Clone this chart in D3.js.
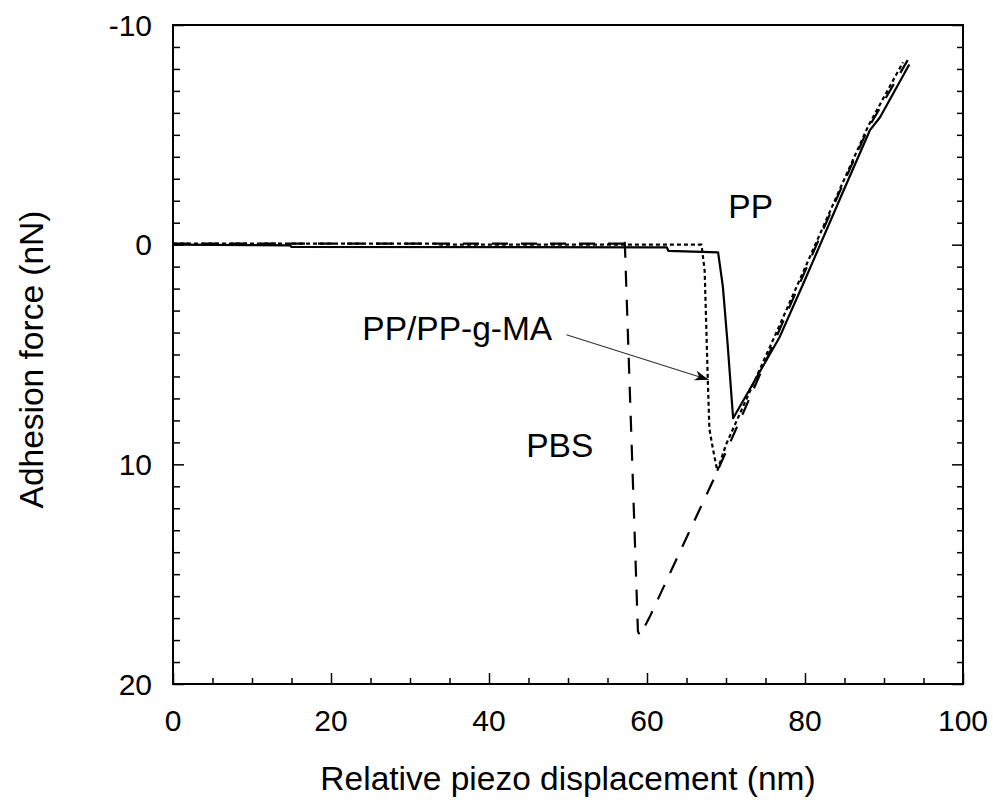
<!DOCTYPE html>
<html>
<head>
<meta charset="utf-8">
<script src="https://cdn.jsdelivr.net/npm/d3@7"></script>
<style>
  html, body { margin: 0; padding: 0; background: #fff; }
  svg { display: block; font-family: "Liberation Sans", Arial, sans-serif; }
</style>
</head>
<body>
<svg id="chart" width="993" height="800"></svg>
<script>
// Force–displacement retraction curves (nN vs nm); y axis runs downward.
const xDomain = [0, 100];
const yDomain = [-10, 20];
const xTicks = [0, 20, 40, 60, 80, 100];
const yTicks = [-10, 0, 10, 20];
const xTitle = "Relative piezo displacement (nm)";
const yTitle = "Adhesion force (nN)";

// PP (solid)
const ppCurve = [
  [0, 0], [14.8, 0.03], [15, 0.1], [62.5, 0.12], [62.7, 0.28], [69.0, 0.35],
  [69.6, 1.9], [70.2, 4.5], [70.9, 7.9], [72.5, 6.9], [76.8, 4.2], [80, 1.6],
  [84.8, -2.4], [88.2, -5.2], [89.5, -5.8], [93.2, -8.2]
];
// PP/PP-g-MA (dotted)
const ppMaCurve = [
  [0, -0.05], [33, -0.05], [34, 0], [66.9, 0], [67.3, 1.2], [67.7, 6.2],
  [67.9, 8.4], [68.4, 9.4], [68.9, 10.3], [70, 9.1], [72, 7.5], [76.5, 3.9],
  [84.5, -2.6], [88, -5.4], [92.4, -8.3]
];
// PBS (dashed)
const pbsCurve = [
  [0, -0.05], [57.0, -0.05], [57.1, -0.4], [57.2, 0], [58.0, 8.5],
  [58.85, 17.6], [59.1, 17.8], [60.4, 16.9], [68.8, 10.4], [72, 7.8],
  [76.5, 4.1], [84.5, -2.5], [88, -5.3], [93, -8.4]
];

const seriesNames = ["PP", "PP/PP-g-MA", "PBS"];
const seriesData = [ppCurve, ppMaCurve, pbsCurve];
const seriesDash = [null, "4,3", "16,13"];

// Annotation text placed in data coordinates
const labelText = ["PP", "PP/PP-g-MA", "PBS"];
const labelAt = [[70.3, -1.2, "start"], [48.0, 4.35, "end"], [53.2, 9.65, "end"]];
const arrowFrom = [49.8, 4.1];
const arrowTo = [67.8, 6.15];

const svg = d3.select("#chart");
const margin = { top: 25, right: 30, bottom: 116, left: 173 };
const W = +svg.attr("width"), H = +svg.attr("height");
const iw = W - margin.left - margin.right;
const ih = H - margin.top - margin.bottom;

const x = d3.scaleLinear().domain(xDomain).range([0, iw]);
const y = d3.scaleLinear().domain(yDomain).range([0, ih]);

const g = svg.append("g").attr("transform", `translate(${margin.left},${margin.top})`);

svg.append("defs").append("marker")
  .attr("id", "head")
  .attr("viewBox", "0 0 14 10")
  .attr("refX", 14).attr("refY", 5)
  .attr("markerWidth", 14).attr("markerHeight", 10)
  .attr("markerUnits", "userSpaceOnUse")
  .attr("orient", "auto")
  .append("path").attr("d", "M0,0 L14,5 L0,10 L4,5 Z").attr("fill", "#000");

// Minor / major tick helpers
function tickAxis(axisFn, scale, values, len) {
  return axisFn(scale).tickValues(values).tickSize(len).tickFormat("");
}

const xMinor = d3.range(0, 101, 5).filter(v => v % 20 !== 0);
const yMinor = d3.range(-10, 21, 1).filter(v => v % 10 !== 0);

// bottom ticks (pointing inward)
g.append("g").attr("transform", `translate(0,${ih})`)
  .call(tickAxis(d3.axisTop, x, xMinor, 6));
g.append("g").attr("transform", `translate(0,${ih})`)
  .call(tickAxis(d3.axisTop, x, xTicks, 11));
// left ticks
g.append("g").call(tickAxis(d3.axisRight, y, yMinor, 7));
g.append("g").call(tickAxis(d3.axisRight, y, yTicks, 11));
// right ticks
g.append("g").attr("transform", `translate(${iw},0)`)
  .call(tickAxis(d3.axisLeft, y, yMinor, 6));
g.append("g").attr("transform", `translate(${iw},0)`)
  .call(tickAxis(d3.axisLeft, y, yTicks, 11));

g.selectAll(".domain").remove();
g.selectAll(".tick line").attr("stroke", "#000").attr("stroke-width", 1.5);

// frame
g.append("rect").attr("x", 0).attr("y", 0).attr("width", iw).attr("height", ih)
  .attr("fill", "none").attr("stroke", "#000").attr("stroke-width", 2);

// tick labels
g.selectAll(".xl").data(xTicks).enter().append("text")
  .attr("x", d => x(d)).attr("y", ih + 47)
  .attr("text-anchor", "middle").attr("font-size", 30).attr("fill", "#000")
  .text(d => d);
g.selectAll(".yl").data(yTicks).enter().append("text")
  .attr("x", -21).attr("y", d => y(d)).attr("dy", "0.36em")
  .attr("text-anchor", "end").attr("font-size", 30).attr("fill", "#000")
  .text(d => d);

// axis titles
svg.append("text")
  .attr("x", margin.left + iw / 2).attr("y", 790)
  .attr("text-anchor", "middle").attr("font-size", 33.5).attr("fill", "#000")
  .text(xTitle);
svg.append("text")
  .attr("transform", `translate(43,${margin.top + ih / 2 + 5}) rotate(-90)`)
  .attr("text-anchor", "middle").attr("font-size", 33.5).attr("fill", "#000")
  .text(yTitle);

// curves
const line = d3.line().x(d => x(d[0])).y(d => y(d[1]));
seriesData.forEach((data, i) => {
  g.append("path").datum(data)
    .attr("class", "series")
    .attr("data-name", seriesNames[i])
    .attr("d", line)
    .attr("fill", "none")
    .attr("stroke", "#000")
    .attr("stroke-width", 2.2)
    .attr("stroke-linejoin", "round")
    .attr("stroke-dasharray", seriesDash[i]);
});

// annotations
labelText.forEach((t, i) => {
  g.append("text")
    .attr("x", x(labelAt[i][0])).attr("y", y(labelAt[i][1]))
    .attr("text-anchor", labelAt[i][2])
    .attr("font-size", 33.5).attr("fill", "#000")
    .text(t);
});
g.append("line")
  .attr("x1", x(arrowFrom[0])).attr("y1", y(arrowFrom[1]))
  .attr("x2", x(arrowTo[0])).attr("y2", y(arrowTo[1]))
  .attr("stroke", "#333").attr("stroke-width", 1.2)
  .attr("marker-end", "url(#head)");
</script>
</body>
</html>
